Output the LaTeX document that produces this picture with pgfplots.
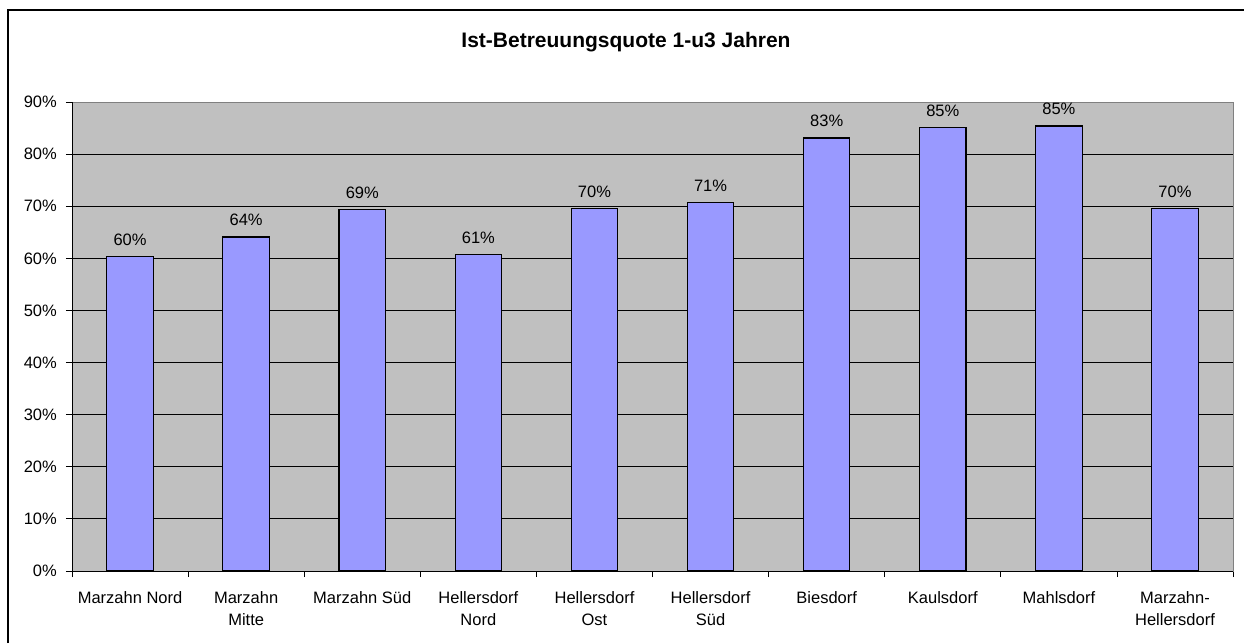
\documentclass[border=0pt]{standalone}
\usepackage{fontspec}
\setmainfont{Liberation Sans}
\usepackage{pgfplots}
\pgfplotsset{compat=1.18}
\definecolor{barblue}{HTML}{9999FF}
\definecolor{plotgray}{HTML}{C0C0C0}
\definecolor{framegray}{HTML}{808080}
\begin{document}
\begin{tikzpicture}[x=1pt,y=1pt]
\useasboundingbox (0,0) rectangle (1244,643);
\draw[line width=1.6pt, black] (8,0) -- (8,633) -- (1244,633);
\node[font=\bfseries\fontsize{21}{25}\selectfont, anchor=base] at (626,595) {Ist-Betreuungsquote 1-u3 Jahren};
\begin{axis}[
  at={(72pt,72pt)}, anchor=south west,
  scale only axis, width=1161pt, height=469pt,
  xmin=-0.5, xmax=9.5, ymin=0, ymax=90,
  axis background/.style={fill=plotgray},
  axis line style={framegray, line width=1pt},
  ybar, bar width=46.5pt,
  xtick={0,...,9},
  xticklabels={Marzahn Nord, Marzahn\\Mitte, Marzahn Süd, Hellersdorf\\Nord, Hellersdorf\\Ost, Hellersdorf\\Süd, Biesdorf, Kaulsdorf, Mahlsdorf, Marzahn-\\Hellersdorf},
  minor xtick={-0.5,0.5,...,9.5},
  xtick pos=bottom, ytick pos=left,
  major x tick style={draw=none},
  minor x tick style={black, line width=0.9pt},
  y tick style={black, line width=0.9pt},
  tick align=outside,
  major tick length=6pt, minor tick length=6pt,
  ytick={0,10,...,90},
  yticklabel={\pgfmathprintnumber{\tick}\%},
  /pgf/number format/assume math mode=true,
  ymajorgrids, grid style={black, line width=0.9pt},
  tick label style={font=\fontsize{16.5}{22.5}\selectfont},
  xticklabel style={align=center, anchor=north, inner sep=0pt, yshift=-14pt},
  yticklabel style={anchor=east, inner sep=0pt, xshift=-9pt},
  nodes near coords={\pgfmathprintnumber[fixed,precision=0]{\pgfplotspointmeta}\%},
  every node near coord/.append style={anchor=base, yshift=11pt, font=\fontsize{16.5}{18}\selectfont, black},
  clip=false,
]
\addplot[fill=barblue, draw=black, line width=1.1pt] coordinates {
  (0,60.3) (1,64.1) (2,69.3) (3,60.8) (4,69.6) (5,70.8) (6,83.1) (7,85.1) (8,85.4) (9,69.6)
};
\draw[black, line width=1pt] (rel axis cs:0,1) -- (rel axis cs:0,0) -- (rel axis cs:1,0);
\end{axis}
\end{tikzpicture}
\end{document}
